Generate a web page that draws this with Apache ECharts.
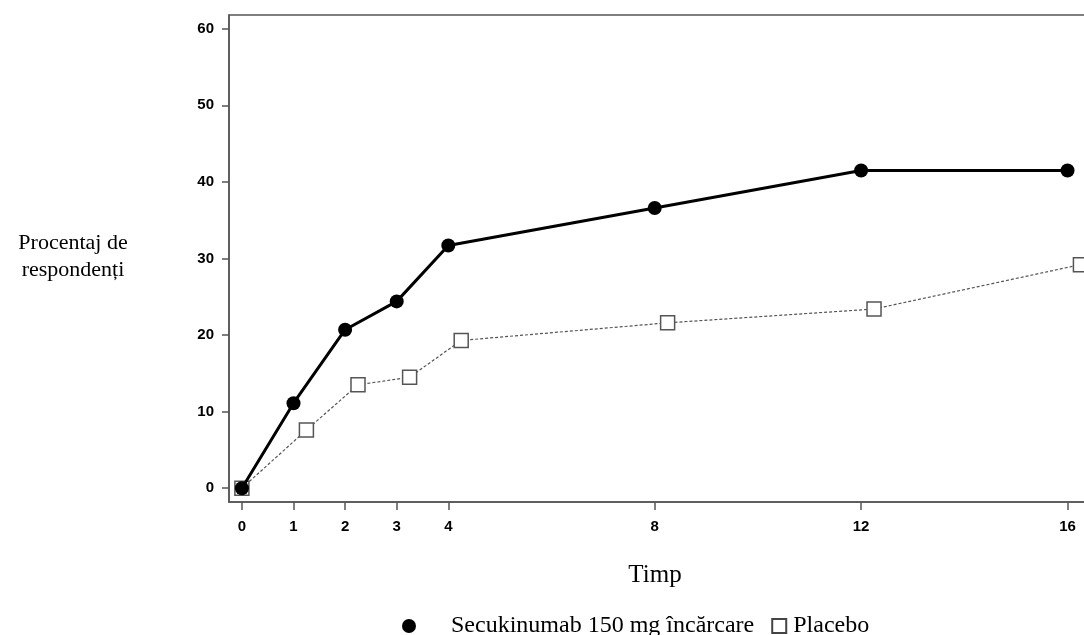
<!DOCTYPE html>
<html>
<head>
<meta charset="utf-8">
<script src="https://cdn.jsdelivr.net/npm/echarts@6/dist/echarts.min.js"></script>
<style>
  html, body { margin: 0; padding: 0; background: #fff; }
  #main { width: 1084px; height: 635px; }
</style>
</head>
<body>
<div id="main"></div>
<script>
// weeks shown on the x axis
var xTicks = [0, 1, 2, 3, 4, 8, 12, 16]
var yTicks = [0, 10, 20, 30, 40, 50, 60]

// Secukinumab 150 mg încărcare
var secuWeeks = [0, 1, 2, 3, 4, 8, 12, 16]
var secuValues = [0, 11.1, 20.7, 24.4, 31.7, 36.6, 41.5, 41.5]

// Placebo (plotted slightly offset to the right)
var placeboWeeks = [0, 1.25, 2.25, 3.25, 4.25, 8.25, 12.25, 16.25]
var placeboValues = [0, 7.6, 13.5, 14.5, 19.3, 21.6, 23.4, 29.2]

var secuName = 'Secukinumab 150 mg încărcare'
var placeboName = 'Placebo'

function pairs(xs, ys) {
  return xs.map(function (x, i) { return [x, ys[i]] })
}

var chartDom = document.getElementById('main')
var myChart = echarts.init(chartDom)
var option

var axisColor = '#555'
var tickFont = { color: '#000', fontFamily: 'Liberation Sans', fontWeight: 'bold', fontSize: 15 }

option = {
  animation: false,
  grid: {
    left: 229,
    top: 15,
    width: 870,
    height: 487,
    outerBoundsMode: 'none',
    show: true,
    borderColor: axisColor,
    borderWidth: 1.5
  },
  legend: {
    top: 609,
    left: 397,
    itemGap: 17,
    itemWidth: 14,
    itemHeight: 14,
    textStyle: { fontFamily: 'Liberation Serif', fontSize: 24, color: '#000' },
    data: [
      { name: secuName, icon: 'circle', itemStyle: { color: '#000' },
        textStyle: { padding: [0, 0, 0, 30] } },
      { name: placeboName, icon: 'rect', itemStyle: { color: '#fff', borderColor: '#444', borderWidth: 2 },
        textStyle: { padding: [0, 0, 0, 2] } }
    ]
  },
  graphic: [
    {
      type: 'text',
      x: 73,
      y: 230,
      style: {
        text: 'Procentaj de\nrespondenți',
        font: '22px "Liberation Serif"',
        fill: '#000',
        align: 'center',
        lineHeight: 27
      }
    },
    {
      type: 'text',
      x: 655,
      y: 563,
      style: {
        text: 'Timp',
        font: '25px "Liberation Serif"',
        fill: '#000',
        align: 'center'
      }
    }
  ],
  xAxis: {
    type: 'value',
    min: -0.25,
    max: 16.61,
    splitLine: { show: false },
    axisLine: { show: true, onZero: false, lineStyle: { color: axisColor, width: 1.5 } },
    axisTick: { show: true, length: 8, customValues: xTicks, lineStyle: { color: axisColor, width: 1.5 } },
    axisLabel: Object.assign({ margin: 17, customValues: xTicks }, tickFont)
  },
  yAxis: {
    type: 'value',
    min: -1.8,
    max: 61.8,
    splitLine: { show: false },
    axisLine: { show: true, onZero: false, lineStyle: { color: axisColor, width: 1.5 } },
    axisTick: { show: true, length: 7, customValues: yTicks, lineStyle: { color: axisColor, width: 1.5 } },
    axisLabel: Object.assign({ margin: 15, customValues: yTicks }, tickFont)
  },
  series: [
    {
      name: placeboName,
      type: 'line',
      data: pairs(placeboWeeks, placeboValues),
      symbol: 'rect',
      symbolSize: 14,
      lineStyle: { color: '#555', width: 1.2, type: [3, 2] },
      itemStyle: { color: '#fff', borderColor: '#555', borderWidth: 1.5 },
      z: 2
    },
    {
      name: secuName,
      type: 'line',
      data: pairs(secuWeeks, secuValues),
      symbol: 'circle',
      symbolSize: 14,
      lineStyle: { color: '#000', width: 3 },
      itemStyle: { color: '#000' },
      z: 3
    }
  ]
}
option && myChart.setOption(option)
</script>
</body>
</html>
